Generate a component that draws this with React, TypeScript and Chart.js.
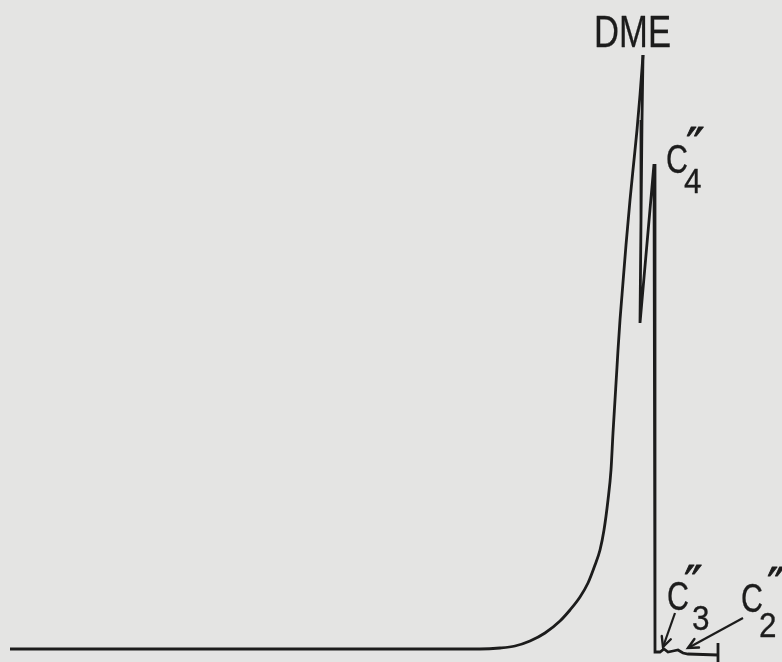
import React, { useEffect, useRef } from "react";
import { Chart, registerables } from "chart.js";

Chart.register(...registerables);

// Retention time (min) and detector signal (arbitrary units)
const riseTime = [0.1, 4.8, 5.0, 5.15, 5.3, 5.45, 5.6, 5.7, 5.8, 5.88, 5.95, 6.0, 6.04, 6.08, 6.11, 6.13, 6.15, 6.17, 6.18, 6.2, 6.22, 6.26, 6.3, 6.34, 6.37, 6.4, 6.43];
const riseSignal = [0, 0, 1, 3, 8, 16, 28, 39, 52, 66, 84, 99, 119, 149, 179, 216, 249, 282, 299, 329, 354, 404, 449, 489, 519, 554, 594];

const peakTime = [6.43, 6.42, 6.41, 6.4, 6.54, 6.55, 6.55, 6.6, 6.64, 6.68, 6.73, 6.78, 6.83, 6.88, 7.18];
const peakSignal = [594, 529, 429, 326, 485, 479, -3, -3, 0, -3, -2, -1, -4, -5, -6];

const markerTime = [7.18, 7.18];
const markerSignal = [6, -14];

const arrowC3Time = [6.75, 6.63];
const arrowC3Signal = [36, 2];
const arrowC2Time = [7.43, 6.88];
const arrowC2Signal = [31, 1];

// Peak labels
const labelMain = ["DME", "C", "C", "C"];
const labelSub = ["", "4", "3", "2"];
const labelSup = ["", "\u2033", "\u2033", "\u2033"];
const labelTime = [5.94, 6.66, 6.67, 7.41];
const labelSignal = [602, 476, 39, 37];

const INK = "#1c1c1c";

const toXY = (xs: number[], ys: number[]) => xs.map((x, i) => ({ x, y: ys[i] }));

const drawText = (ctx: any, txt: string, x: number, y: number, font: string, sx: number, stroke: number) => {
  ctx.save();
  ctx.translate(x, y);
  ctx.scale(sx, 1);
  ctx.font = font;
  ctx.fillText(txt, 0, 0);
  if (stroke > 0) {
    ctx.lineWidth = stroke;
    ctx.lineJoin = "round";
    ctx.strokeText(txt, 0, 0);
  }
  ctx.restore();
};

const labelPlugin = {
  id: "peakLabels",
  afterDatasetsDraw(chart: any, _args: any, opts: any) {
    const { ctx, scales } = chart;
    const xs = scales.x;
    const ys = scales.y;
    ctx.save();
    ctx.fillStyle = INK;
    ctx.strokeStyle = INK;
    ctx.textBaseline = "alphabetic";
    ctx.textAlign = "left";
    labelMain.forEach((txt, i) => {
      const px = xs.getPixelForValue(labelTime[i]);
      const py = ys.getPixelForValue(labelSignal[i]);
      const isBig = i === 0;
      drawText(ctx, txt, px, py, `${isBig ? 45 : 40}px "Liberation Sans", Arial, sans-serif`, isBig ? 0.77 : 0.76, 0.3);
      const off = opts.offsets[i];
      if (labelSub[i]) {
        drawText(ctx, labelSub[i], px + off.subDx, py + off.subDy, `35px "Liberation Sans", Arial, sans-serif`, 0.9, 0.3);
      }
      if (labelSup[i]) {
        drawText(ctx, labelSup[i], px + off.supDx, py + off.supDy, `50px "DejaVu Sans", sans-serif`, 1, 0.8);
      }
    });
    // arrowheads at ends of arrow datasets
    chart.data.datasets.forEach((ds: any) => {
      if (!ds.arrow) return;
      const d = ds.data;
      const a = d[d.length - 2];
      const b = d[d.length - 1];
      const ax = xs.getPixelForValue(a.x), ay = ys.getPixelForValue(a.y);
      const bx = xs.getPixelForValue(b.x), by = ys.getPixelForValue(b.y);
      const ang = Math.atan2(by - ay, bx - ax);
      const L = 11;
      ctx.lineWidth = 2.4;
      ctx.lineCap = "round";
      ctx.beginPath();
      ctx.moveTo(bx - L * Math.cos(ang - 0.45), by - L * Math.sin(ang - 0.45));
      ctx.lineTo(bx, by);
      ctx.lineTo(bx - L * Math.cos(ang + 0.45), by - L * Math.sin(ang + 0.45));
      ctx.stroke();
    });
    ctx.restore();
  },
};

const bgPlugin = {
  id: "paper",
  beforeDraw(chart: any) {
    const { ctx, width, height } = chart;
    ctx.save();
    ctx.fillStyle = "#e4e4e3";
    ctx.fillRect(0, 0, width, height);
    ctx.restore();
  },
};

export default function App() {
  const ref = useRef<HTMLCanvasElement | null>(null);
  useEffect(() => {
    document.body.style.margin = "0";
    document.body.style.background = "#e4e4e3";
    if (!ref.current) return;
    const line = { borderColor: INK, borderWidth: 2.8, pointRadius: 0, fill: false };
    const chart = new Chart(ref.current, {
      type: "line",
      data: {
        datasets: [
          { ...line, data: toXY(riseTime, riseSignal), cubicInterpolationMode: "monotone" },
          { ...line, data: toXY(peakTime, peakSignal), tension: 0, borderJoinStyle: "miter" },
          { ...line, data: toXY(markerTime, markerSignal), tension: 0 },
          { ...line, borderWidth: 2.2, data: toXY(arrowC3Time, arrowC3Signal), tension: 0, arrow: true },
          { ...line, borderWidth: 2.2, data: toXY(arrowC2Time, arrowC2Signal), tension: 0, arrow: true },
        ] as any,
      },
      options: {
        responsive: false,
        animation: false,
        devicePixelRatio: 1,
        layout: { padding: 0 },
        parsing: false as any,
        normalized: true,
        scales: {
          x: { type: "linear", min: 0, max: 7.82, display: false },
          y: { type: "linear", min: -13, max: 649, display: false },
        },
        plugins: {
          legend: { display: false },
          tooltip: { enabled: false },
          peakLabels: {
            offsets: [
              { subDx: 0, subDy: 0, supDx: 0, supDy: 0 },
              { subDx: 18, subDy: 20, supDx: 20, supDy: -10 },
              { subDx: 25, subDy: 20, supDx: 17, supDy: -9 },
              { subDx: 18, subDy: 25, supDx: 26, supDy: -9 },
            ],
          },
        } as any,
      },
      plugins: [bgPlugin, labelPlugin],
    });
    return () => chart.destroy();
  }, []);
  return (
    <div style={{ width: 782, height: 662, background: "#e4e4e3" }}>
      <canvas ref={ref} width={782} height={662} style={{ display: "block" }} />
    </div>
  );
}
